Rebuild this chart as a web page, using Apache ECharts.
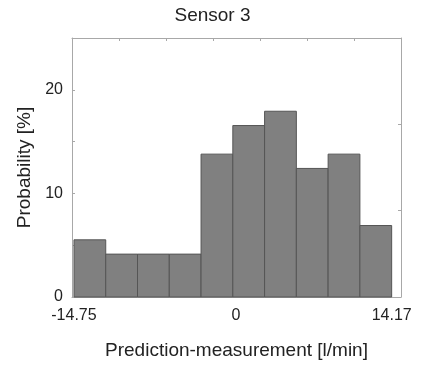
<!DOCTYPE html>
<html>
<head>
<meta charset="utf-8">
<script src="https://cdn.jsdelivr.net/npm/echarts@6/dist/echarts.min.js"></script>
<style>html,body{margin:0;padding:0;background:#fff}#c{width:425px;height:369px}</style>
</head>
<body>
<div id="c"></div>
<script>
// Histogram bin edges (l/min)
var binEdges = [-14.75, -11.858, -8.966, -6.074, -3.182, -0.29, 2.602, 5.494, 8.386, 11.278, 14.17];
// Probability per bin [%]
var probabilities = [5.52, 4.14, 4.14, 4.14, 13.79, 16.55, 17.93, 12.41, 13.79, 6.90];
// Tick labels on the x axis
var xTickValues = [-14.75, 0, 14.17];
var yTickLabels = [0, 10, 20];

var data = [];
for (var i = 0; i < probabilities.length; i++) {
  data.push([binEdges[i], binEdges[i + 1], probabilities[i]]);
}

var font = '"Liberation Sans", Arial, sans-serif';
var frameColor = '#a8a8a8';
var textColor = '#222';

var chart = echarts.init(document.getElementById('c'), null, {renderer: 'canvas'});
chart.setOption({
  animation: false,
  backgroundColor: '#fff',
  title: {
    text: 'Sensor 3',
    left: 'center',
    top: 6,
    padding: 0,
    textStyle: {fontFamily: font, fontSize: 19, fontWeight: 'normal', color: textColor}
  },
  grid: {left: 72, top: 38, right: 24, bottom: 72, containLabel: false},
  xAxis: [{
    type: 'value',
    min: -14.93,
    max: 15.02,
    position: 'bottom',
    axisLine: {show: true, onZero: false, lineStyle: {color: frameColor, width: 1}},
    axisTick: {show: true, inside: true, length: 3, customValues: xTickValues, lineStyle: {color: frameColor}},
    axisLabel: {show: true, customValues: xTickValues, fontFamily: font, fontSize: 16, color: textColor, margin: 11,
      formatter: function (v) { return String(v); }},
    splitLine: {show: false},
    name: 'Prediction-measurement [l/min]',
    nameLocation: 'middle',
    nameGap: 44,
    nameTextStyle: {fontFamily: font, fontSize: 19, color: textColor}
  }, {
    type: 'value',
    min: 0,
    max: 7,
    interval: 1,
    position: 'top',
    axisLine: {show: true, onZero: false, lineStyle: {color: frameColor, width: 1}},
    axisTick: {show: true, inside: true, length: 3, lineStyle: {color: frameColor}},
    axisLabel: {show: false},
    splitLine: {show: false}
  }],
  yAxis: [{
    type: 'value',
    min: 0,
    max: 25,
    interval: 5,
    position: 'left',
    axisLine: {show: true, onZero: false, lineStyle: {color: frameColor, width: 1}},
    axisTick: {show: true, inside: true, length: 3, lineStyle: {color: frameColor}},
    axisLabel: {show: true, fontFamily: font, fontSize: 16, color: textColor, margin: 9,
      formatter: function (v) { return yTickLabels.indexOf(v) >= 0 ? String(v) : ''; }},
    splitLine: {show: false},
    name: 'Probability [%]',
    nameLocation: 'middle',
    nameGap: 32,
    nameRotate: 90,
    nameTextStyle: {fontFamily: font, fontSize: 19, color: textColor}
  }, {
    type: 'value',
    min: 0,
    max: 3,
    interval: 1,
    position: 'right',
    axisLine: {show: true, onZero: false, lineStyle: {color: frameColor, width: 1}},
    axisTick: {show: true, inside: true, length: 3, lineStyle: {color: frameColor}},
    axisLabel: {show: false},
    splitLine: {show: false}
  }],
  series: [{
    type: 'custom',
    xAxisIndex: 0,
    yAxisIndex: 0,
    data: data,
    encode: {x: [0, 1], y: 2},
    renderItem: function (params, api) {
      var p0 = api.coord([api.value(0), api.value(2)]);
      var p1 = api.coord([api.value(1), 0]);
      return {
        type: 'rect',
        shape: {x: p0[0], y: p0[1], width: p1[0] - p0[0], height: p1[1] - p0[1]},
        style: {fill: '#808080', stroke: '#555555', lineWidth: 1}
      };
    }
  }]
});
</script>
</body>
</html>
